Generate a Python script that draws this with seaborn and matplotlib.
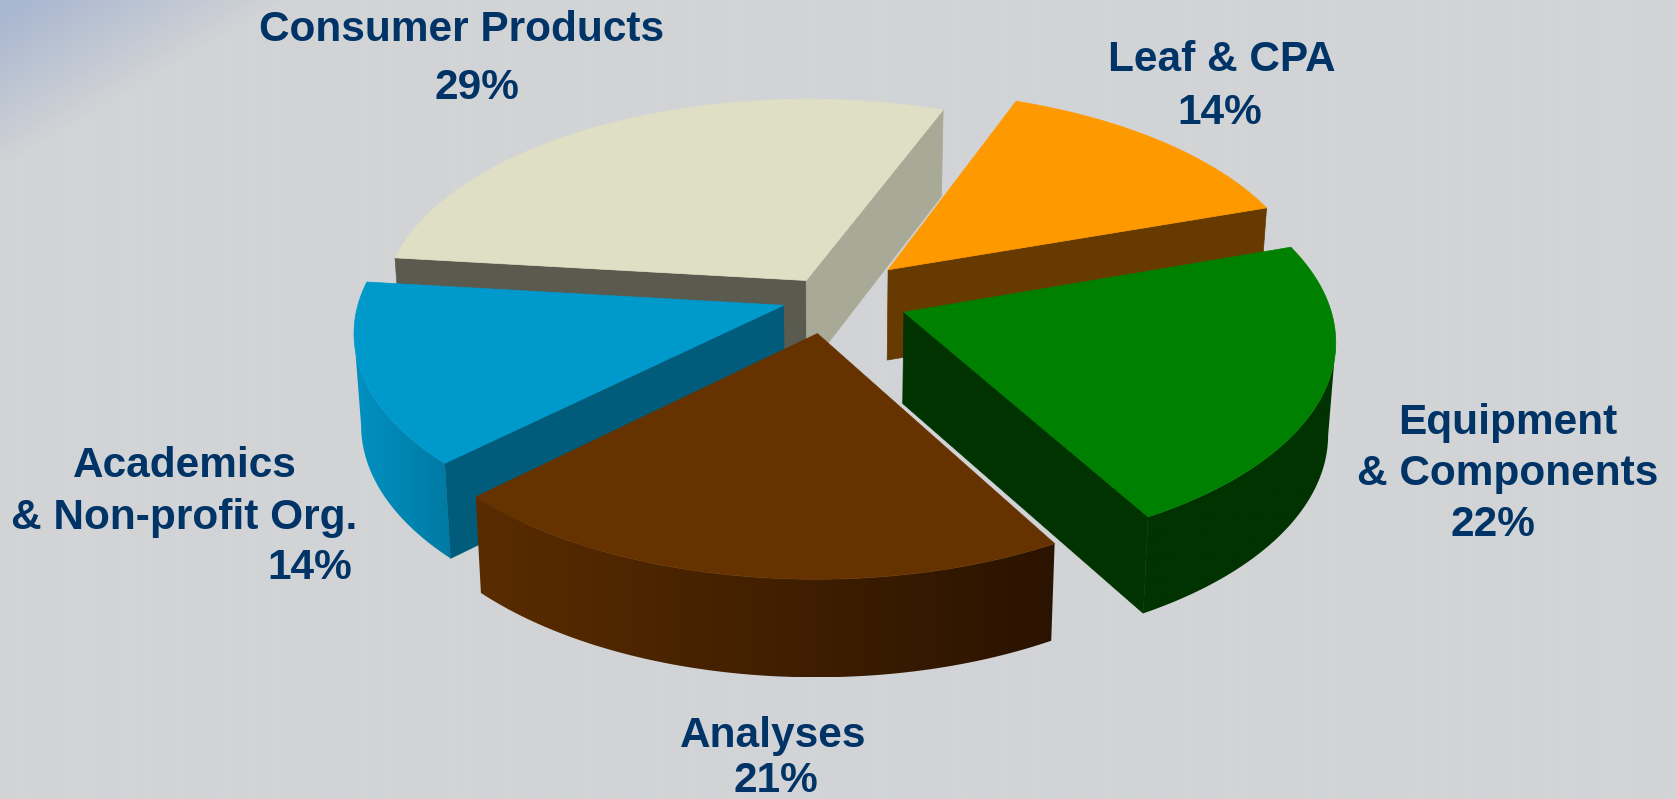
import numpy as np
import matplotlib
matplotlib.use('Agg')
import matplotlib.pyplot as plt
from matplotlib.colors import LinearSegmentedColormap, to_rgb
from matplotlib.patches import Polygon
import seaborn as sns

categories = ['Consumer Products', 'Leaf & CPA', 'Equipment & Components', 'Analyses', 'Academics & Non-profit Org.']
shares = [29, 14, 22, 21, 14]

# look of the slices, same order as categories
explode = [0.10, 0.20, 0.19, 0.17, 0.11]
top_colors = sns.color_palette(['#dfdfc6', '#ff9900', '#008000', '#663300', '#0099cc'])
cut_start_colors = ['#5b5a4e', None, None, None, '#005c7a']
cut_end_colors = ['#a8a996', '#663a00', '#003300', None, None]
rim_left = ['#5b5a4e', '#663a00', '#003300', '#5a2c00', '#0091c2']
rim_right = ['#a8a996', '#663a00', '#003300', '#2a1300', '#007aa3']
draw_order = [1, 0, 4, 2, 3]

first_angle = -83.5
cx, cy = 828, 298
fx, fy = 424, 207
persp = 0.12
depth, shrink_x, stretch_y = 91, 0.985, 1.025


def project(x, y, bottom=False):
    s = 1 / (1 + persp * y)
    px = fx * x * s
    py = -fy * y * s
    if bottom:
        return cx + px * shrink_x, cy + py * stretch_y + depth
    return cx + px, cy + py


def slice_faces(ax, a0, a1, e, top, c0, c1, left, right, z):
    mid = np.radians((a0 + a1) / 2)
    ox, oy = e * np.sin(mid), e * np.cos(mid)
    t = np.radians(np.linspace(a0, a1, 200))
    x, y = ox + np.sin(t), oy + np.cos(t)
    tx, ty = project(x, y)
    bx, by = project(x, y, bottom=True)
    ax0, ay0 = project(ox, oy)
    bx0, by0 = project(ox, oy, bottom=True)

    for col, i in [(c0, 0), (c1, -1)]:
        if col is not None:
            pts = [(ax0, ay0), (tx[i], ty[i]), (bx[i], by[i]), (bx0, by0)]
            ax.add_patch(Polygon(pts, closed=True, fc=col, ec=col, lw=0.5, zorder=z))

    # outer rim: horizontal colour ramp clipped to the rim shape, front part only
    i0, i1 = np.argmax(tx), np.argmin(tx)
    if i0 < i1:
        rim = np.r_[np.c_[tx[i0:i1 + 1], ty[i0:i1 + 1]], np.c_[bx[i0:i1 + 1], by[i0:i1 + 1]][::-1]]
        x0, x1 = rim[:, 0].min(), rim[:, 0].max()
        ramp = np.linspace(0, 1, 256)[None, :, None]
        rgb = np.array(to_rgb(left))[None, None, :] * (1 - ramp) + np.array(to_rgb(right))[None, None, :] * ramp
        im = ax.imshow(rgb, extent=(x0, x1, rim[:, 1].max(), rim[:, 1].min()), aspect='auto',
                       interpolation='bilinear', zorder=z + 0.1)
        im.set_clip_path(Polygon(rim, closed=True, transform=ax.transData))

    ax.add_patch(Polygon(np.r_[[[ax0, ay0]], np.c_[tx, ty]], closed=True, fc=top, ec=top, lw=0.5, zorder=z + 0.2))


sns.set_theme(style='white')
plt.rcParams['font.family'] = ['Liberation Sans', 'DejaVu Sans']

fig = plt.figure(figsize=(16.76, 7.99), dpi=100)
ax = fig.add_axes([0, 0, 1, 1])

# grey slide background with the blue corner
xx, yy = np.meshgrid(np.arange(1676), np.arange(799))
fade = np.clip(1 - (xx / 290 + yy / 170), 0, 1)
cmap = LinearSegmentedColormap.from_list('bg', ['#d2d4d6', '#a9b7d0'])
ax.imshow(fade, cmap=cmap, vmin=0, vmax=0.9, extent=(0, 1676, 799, 0), aspect='auto', zorder=0)

edges = first_angle + np.r_[0, np.cumsum(shares)] * 3.6
for n, i in enumerate(draw_order):
    slice_faces(ax, edges[i], edges[i + 1], explode[i], top_colors[i],
                cut_start_colors[i], cut_end_colors[i], rim_left[i], rim_right[i], n + 1)

labels = [
    ('Consumer Products', 462, 30), ('29%', 477, 88),
    ('Leaf & CPA', 1222, 60), ('14%', 1220, 113),
    ('Equipment', 1508, 423), ('& Components', 1508, 474), ('22%', 1493, 525),
    ('Analyses', 773, 736), ('21%', 776, 781),
    ('Academics', 185, 466), ('& Non-profit Org.', 184, 518), ('14%', 310, 568),
]
for txt, x, y in labels:
    ax.text(x, y, txt, ha='center', va='center', fontsize=30.5, fontweight='bold', color='#003366', zorder=10)

ax.set_xlim(0, 1676)
ax.set_ylim(799, 0)
ax.axis('off')
fig.savefig('out.png', dpi=100)
